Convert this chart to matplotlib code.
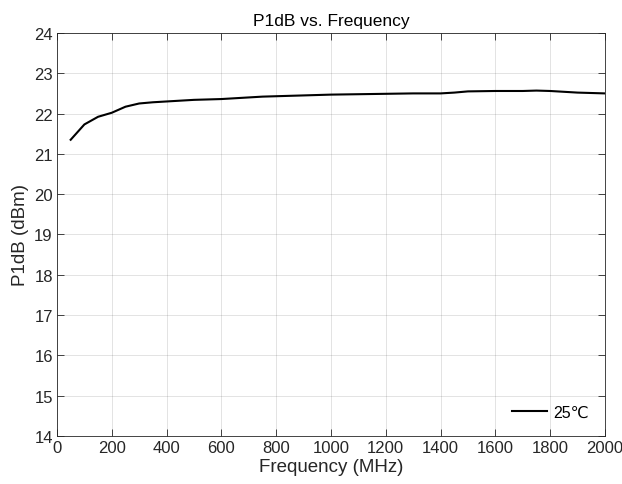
import matplotlib
matplotlib.use('Agg')
import matplotlib.pyplot as plt

plt.rcParams['font.family'] = ['Liberation Sans', 'DejaVu Sans']

# P1dB vs frequency at 25 C
freq_mhz = [50, 100, 150, 200, 250, 300, 350, 400, 450, 500, 550, 600, 650, 700,
            750, 800, 850, 900, 950, 1000, 1100, 1200, 1300, 1400, 1450, 1500,
            1600, 1700, 1750, 1800, 1850, 1900, 2000]
p1db_25c = [21.35, 21.73, 21.92, 22.02, 22.17, 22.25, 22.28, 22.30, 22.32, 22.34,
            22.35, 22.36, 22.38, 22.40, 22.42, 22.43, 22.44, 22.45, 22.46, 22.47,
            22.48, 22.49, 22.50, 22.50, 22.52, 22.55, 22.56, 22.56, 22.57, 22.56,
            22.54, 22.52, 22.50]
legend_label = '25\u2103'

x_ticks = list(range(0, 2001, 200))
y_ticks = list(range(14, 25))

axis_col = '#262626'

fig = plt.figure(figsize=(6.22, 4.85), dpi=100)
ax = fig.add_axes([0.0916, 0.099, 0.881, 0.831])

ax.plot(freq_mhz, p1db_25c, color='black', linewidth=1.5, label=legend_label)

ax.set_xlim(0, 2000)
ax.set_ylim(14, 24)
ax.set_xticks(x_ticks)
ax.set_yticks(y_ticks)
ax.grid(True, color=axis_col, alpha=0.15, linewidth=0.6)
ax.tick_params(direction='in', length=5, width=0.6, colors=axis_col,
               labelsize=12, top=True, right=True, pad=3)
for side in ax.spines.values():
    side.set_color(axis_col)
    side.set_linewidth(0.6)

ax.set_xlabel('Frequency (MHz)', fontsize=13.5, color=axis_col, labelpad=2)
ax.set_ylabel('P1dB (dBm)', fontsize=13.5, color=axis_col, labelpad=4)
ax.set_title('P1dB vs. Frequency', fontsize=12.5, color='black', pad=6)

ax.legend(loc='lower right', frameon=False, fontsize=11.5, handlelength=2.2,
          handletextpad=0.4, borderaxespad=0.6)

fig.savefig('out.png', dpi=100)
